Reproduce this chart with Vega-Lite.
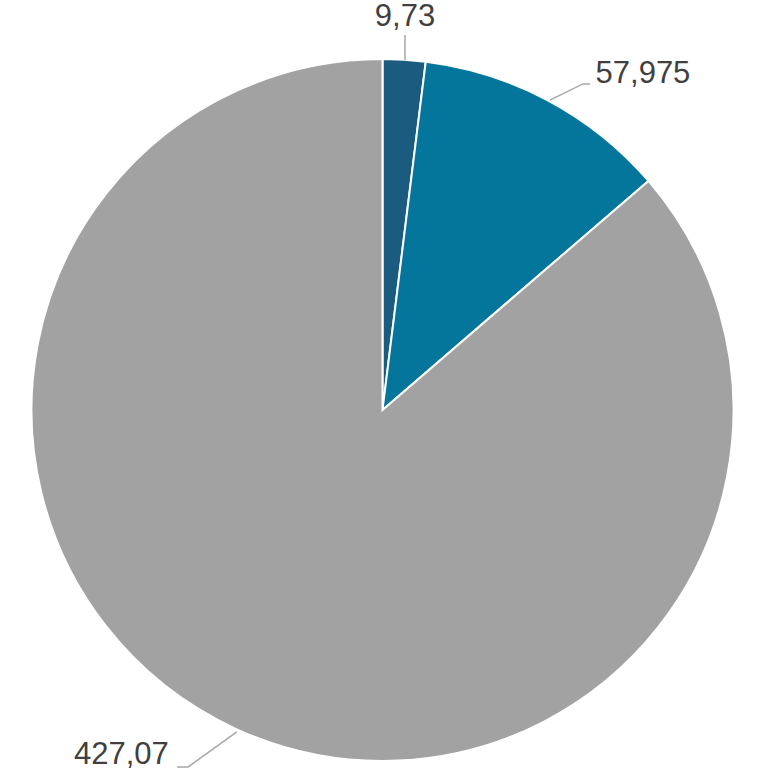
{
  "$schema": "https://vega.github.io/schema/vega-lite/v6.json",
  "width": 765,
  "height": 728,
  "autosize": {"type": "none"},
  "padding": {"top": 46, "left": 0, "right": 0, "bottom": 0},
  "background": "white",
  "config": {"view": {"stroke": null}},
  "datasets": {
    "slices": [
      {"i": 1, "name": "A", "value": 9.73},
      {"i": 2, "name": "B", "value": 57.975},
      {"i": 3, "name": "C", "value": 427.07}
    ],
    "leaders": [
      {"g": "A", "k": 1, "x": 0.064, "y": 1.068},
      {"g": "A", "k": 2, "x": 0.064, "y": 0.997},
      {"g": "B", "k": 1, "x": 0.477, "y": 0.883},
      {"g": "B", "k": 2, "x": 0.571, "y": 0.929},
      {"g": "B", "k": 3, "x": 0.591, "y": 0.929},
      {"g": "C", "k": 1, "x": -0.415, "y": -0.917},
      {"g": "C", "k": 2, "x": -0.554, "y": -1.017},
      {"g": "C", "k": 3, "x": -0.585, "y": -1.017}
    ],
    "labels": [
      {"label": "9,73", "x": 0.064, "y": 1.12},
      {"label": "57,975", "x": 0.742, "y": 0.957},
      {"label": "427,07", "x": -0.744, "y": -0.983}
    ]
  },
  "layer": [
    {
      "data": {"name": "slices"},
      "mark": {"type": "arc", "outerRadius": 351, "stroke": "white", "strokeWidth": 2},
      "encoding": {
        "theta": {"field": "value", "type": "quantitative", "stack": true},
        "order": {"field": "i", "type": "quantitative"},
        "color": {
          "field": "name", "type": "nominal", "legend": null,
          "scale": {"domain": ["A", "B", "C"], "range": ["#1a5b7f", "#05769b", "#a2a2a2"]}
        }
      }
    },
    {
      "data": {"name": "leaders"},
      "mark": {"type": "line", "stroke": "#a6a6a6", "strokeWidth": 1.5},
      "encoding": {
        "x": {"field": "x", "type": "quantitative", "axis": null, "scale": {"domain": [-1.0897, 1.0897], "nice": false, "zero": false}},
        "y": {"field": "y", "type": "quantitative", "axis": null, "scale": {"domain": [-1.037, 1.037], "nice": false, "zero": false}},
        "detail": {"field": "g", "type": "nominal"},
        "order": {"field": "k", "type": "quantitative"}
      }
    },
    {
      "data": {"name": "labels"},
      "mark": {"type": "text", "font": "Liberation Sans", "fontSize": 31, "color": "#404040", "align": "center", "baseline": "middle"},
      "encoding": {
        "x": {"field": "x", "type": "quantitative", "axis": null, "scale": {"domain": [-1.0897, 1.0897], "nice": false, "zero": false}},
        "y": {"field": "y", "type": "quantitative", "axis": null, "scale": {"domain": [-1.037, 1.037], "nice": false, "zero": false}},
        "text": {"field": "label", "type": "nominal"}
      }
    }
  ]
}
